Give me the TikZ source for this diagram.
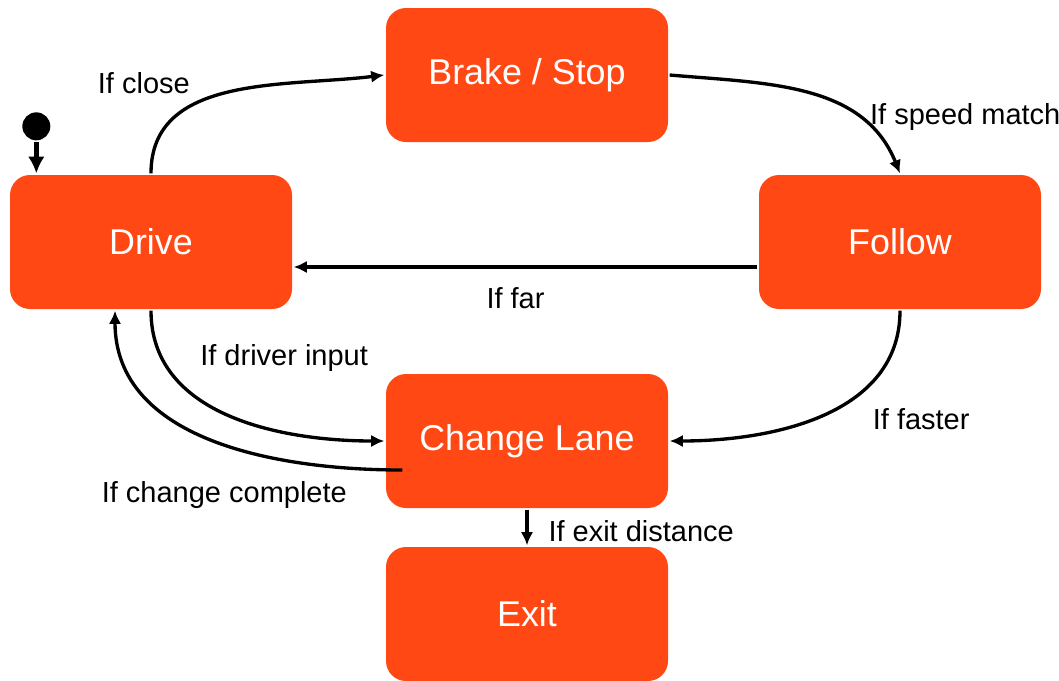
\documentclass[tikz,border=0pt]{standalone}
\usepackage{fontspec}
\setmainfont{Liberation Sans}
\usetikzlibrary{arrows.meta,positioning}
\definecolor{stateorange}{RGB}{255,72,20}
\tikzstyle{state} = [rectangle, fill=stateorange, text=white, minimum width=5.64cm,
    minimum height=2.68cm, rounded corners=0.4cm, font=\fontsize{20.4}{24}\selectfont]
\tikzstyle{lbl} = [font=\fontsize{16.5}{20}\selectfont, text=black]
\tikzstyle{initdot} = [circle, fill=black, inner sep=0pt, minimum size=0.56cm]

\begin{document}
\begin{tikzpicture}[->,>={Latex[length=7.5pt,width=7pt]},line width=1.9pt,
                    node distance=2cm,on grid]
  \useasboundingbox (0,0) rectangle (21.18,-13.62);

  \node[state] (drive)  at (3.02,-4.84)                        {Drive};
  \node[state] (brake)  [above right=3.34cm and 7.52cm of drive] {Brake / Stop};
  \node[state] (follow) [right=14.98cm of drive]                 {Follow};
  \node[state] (change) [below=7.32cm of brake]                  {Change Lane};
  \node[state] (exit)   [below=3.46cm of change]                 {Exit};

  \node[initdot] (start) at ([xshift=0.56cm,yshift=0.94cm]drive.north west) {};
  \draw[line width=2.8pt,-{Latex[length=9.5pt,width=9.5pt]}] (start) -- (start |- drive.north);

  \draw (drive.north) to[out=90,in=187]
        node[lbl,pos=0.3,anchor=south east,xshift=0.29cm,yshift=0.19cm] {If close} (brake.west);
  \draw (brake.east) to[out=-5,in=112]
        node[lbl,pos=0.55,anchor=west,xshift=0.86cm,yshift=-0.4cm] {If speed match} (follow.north);
  \draw ([yshift=-0.5cm]follow.west) --
        node[lbl,anchor=north,xshift=-0.2cm,yshift=-0.26cm] {If far} ([yshift=-0.5cm]drive.east);
  \draw (follow.south) to[out=-90,in=0]
        node[lbl,pos=0.85,anchor=north west,xshift=2.96cm,yshift=0.77cm] {If faster} (change.east);
  \draw (drive.south) to[out=-90,in=180]
        node[lbl,pos=0.35,anchor=south west,xshift=0.02cm,yshift=0.3cm] {If driver input} (change.west);
  \draw ([xshift=0.36cm,yshift=-0.58cm]change.west) to[out=180,in=-90]
        node[lbl,pos=0.35,anchor=north,xshift=-0.8cm,yshift=-0.36cm] {If change complete} ([xshift=-0.72cm]drive.south);
  \draw (change.south) --
        node[lbl,anchor=west,xshift=0.28cm,yshift=-0.08cm] {If exit distance} (exit.north);
\end{tikzpicture}
\end{document}
